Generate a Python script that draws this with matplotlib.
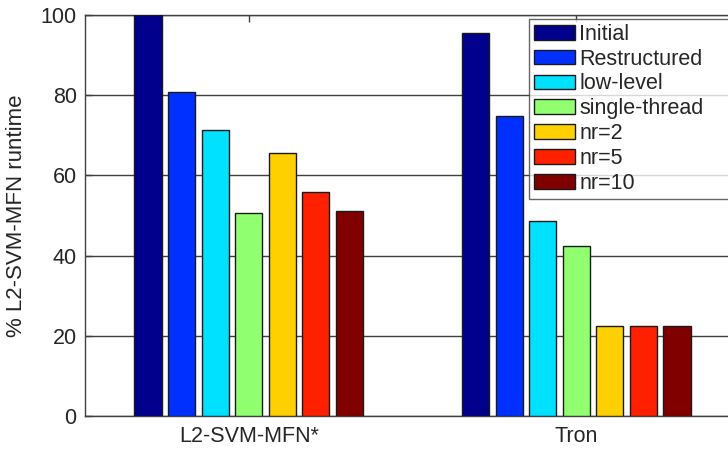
"""Grouped bar chart: % of L2-SVM-MFN runtime per optimisation stage."""

import matplotlib

matplotlib.use("Agg")
import matplotlib.pyplot as plt
import numpy as np

plt.rcParams["font.family"] = ["Liberation Sans", "DejaVu Sans"]

groups = ["L2-SVM-MFN*", "Tron"]
series = ["Initial", "Restructured", "low-level", "single-thread", "nr=2", "nr=5", "nr=10"]
values = {
    "L2-SVM-MFN*": [100.0, 80.7, 71.2, 50.5, 65.7, 55.8, 51.2],
    "Tron": [95.5, 74.8, 48.7, 42.4, 22.4, 22.4, 22.4],
}
colors = ["#00008c", "#0030ff", "#00e0ff", "#90ff70", "#ffd000", "#ff2000", "#800000"]

text_color = "#262626"
fs = 15.5
fig = plt.figure(figsize=(7.28, 4.51), dpi=100)
ax = fig.add_axes([85 / 728, 35 / 451, 655 / 728, 401 / 451])

x = np.arange(1, len(groups) + 1)
step = 0.1025
width = 0.083
n = len(series)
for i, (name, color) in enumerate(zip(series, colors)):
    heights = [values[g][i] for g in groups]
    ax.bar(x + (i - (n - 1) / 2) * step, heights, width, color=color,
           edgecolor="#1a1a1a", linewidth=1.0, label=name, zorder=3)

ax.set_xlim(0.5, 2.5)
ax.set_ylim(0, 100)
ax.set_xticks(x)
ax.set_xticklabels(groups)
ax.set_yticks([0, 20, 40, 60, 80, 100])
ax.set_ylabel("% L2-SVM-MFN runtime", fontsize=16, color=text_color, labelpad=10)
ax.tick_params(axis="both", direction="in", length=5, width=1, labelsize=fs,
               colors="#404040", labelcolor=text_color, top=True, right=False)
ax.tick_params(axis="x", pad=7)
ax.tick_params(axis="y", pad=6)
ax.yaxis.grid(True, color="#404040", linewidth=1.0, zorder=0)
ax.set_axisbelow(True)
for side in ["left", "top", "bottom"]:
    ax.spines[side].set_color("#404040")
    ax.spines[side].set_linewidth(1.0)
ax.spines["right"].set_visible(False)

leg = ax.legend(loc="upper left",
                bbox_to_anchor=(529 / 728, 0, 215 / 728, 1 - 19 / 451),
                bbox_transform=fig.transFigure, mode="expand", fontsize=fs,
                frameon=True, fancybox=False, handlelength=1.9, handleheight=0.68,
                handletextpad=0.22, labelspacing=0.18, borderpad=0.22,
                borderaxespad=0)
leg.get_frame().set_edgecolor("#404040")
leg.get_frame().set_linewidth(1.0)
for t in leg.get_texts():
    t.set_color(text_color)

fig.savefig("out.png", dpi=100)
